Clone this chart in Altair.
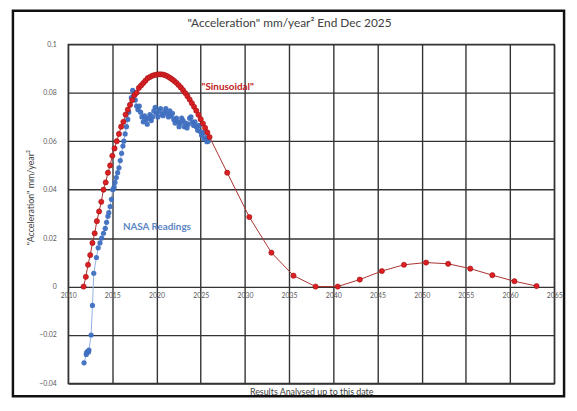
import altair as alt
import pandas as pd

# "Sinusoidal" series (red)
red_years = [2011.75, 2012.0, 2012.25, 2012.5, 2012.75, 2013.0, 2013.25, 2013.5, 2013.75, 2014.0,
             2014.25, 2014.5, 2014.75, 2015.0, 2015.25, 2015.5, 2015.75, 2016.0, 2016.25, 2016.5,
             2016.75, 2017.0, 2017.25, 2017.5, 2017.75, 2018.0, 2018.25, 2018.5, 2018.75, 2019.0,
             2019.25, 2019.5, 2019.75, 2020.0, 2020.25, 2020.5, 2020.75, 2021.0, 2021.25, 2021.5,
             2021.75, 2022.0, 2022.25, 2022.5, 2022.75, 2023.0, 2023.25, 2023.5, 2023.75, 2024.0,
             2024.25, 2024.5, 2024.75, 2025.0, 2025.25, 2025.5, 2025.75, 2026.0,
             2028.0, 2030.5, 2033.0, 2035.5, 2038.0, 2040.5, 2043.0, 2045.5, 2048.0, 2050.5,
             2053.0, 2055.5, 2058.0, 2060.5, 2063.0]
red_values = [0.000, 0.004, 0.009, 0.013, 0.018, 0.022, 0.027, 0.031, 0.035, 0.040,
              0.043, 0.047, 0.050, 0.054, 0.057, 0.060, 0.063, 0.066, 0.068, 0.071,
              0.073, 0.075, 0.077, 0.079, 0.080, 0.082, 0.083, 0.084, 0.085, 0.086,
              0.0865, 0.087, 0.0873, 0.0875, 0.0876, 0.0876, 0.0875, 0.0872, 0.0868, 0.0862,
              0.0856, 0.0849, 0.0841, 0.0832, 0.0822, 0.0811, 0.0799, 0.0786, 0.0772, 0.0757,
              0.0742, 0.0726, 0.0709, 0.0691, 0.0673, 0.0655, 0.0636, 0.0617,
              0.047, 0.0287, 0.014, 0.0045, 0.0, 0.0, 0.0029, 0.0064, 0.009, 0.0099,
              0.0094, 0.0074, 0.0047, 0.0022, 0.0002]

# NASA readings (blue)
blue_years = [2011.8, 2012.05, 2012.1, 2012.2, 2012.3, 2012.35, 2012.6, 2012.75, 2012.9, 2013.2,
              2013.4, 2013.6, 2013.8, 2014.0, 2014.2, 2014.35, 2014.5, 2014.6, 2014.75, 2014.9,
              2015.05, 2015.2, 2015.3, 2015.45, 2015.6, 2015.75, 2015.9, 2016.05, 2016.2, 2016.3,
              2016.45, 2016.6, 2016.75, 2016.85, 2017.0, 2017.15, 2017.3, 2017.45, 2017.6, 2017.75,
              2017.9, 2018.05, 2018.2, 2018.35, 2018.5, 2018.65, 2018.8, 2018.95, 2019.1, 2019.25,
              2019.4, 2019.55, 2019.7, 2019.85, 2020.0, 2020.15, 2020.3, 2020.45, 2020.6, 2020.75,
              2020.9, 2021.05, 2021.2, 2021.35, 2021.5, 2021.65, 2021.8, 2021.95, 2022.1, 2022.25,
              2022.4, 2022.55, 2022.7, 2022.85, 2023.0, 2023.15, 2023.3, 2023.45, 2023.6, 2023.75,
              2023.9, 2024.05, 2024.2, 2024.35, 2024.5, 2024.65, 2024.8, 2024.95, 2025.1, 2025.25,
              2025.4, 2025.55, 2025.7, 2025.85]
blue_values = [-0.0315, -0.028, -0.0272, -0.0268, -0.027, -0.0262, -0.020, -0.0078, 0.0055, 0.012,
               0.016, 0.018, 0.020, 0.022, 0.024, 0.0265, 0.029, 0.0305, 0.033, 0.036,
               0.040, 0.041, 0.043, 0.045, 0.047, 0.049, 0.052, 0.055, 0.058, 0.060,
               0.063, 0.066, 0.069, 0.072, 0.075, 0.078, 0.081, 0.079, 0.077, 0.0745,
               0.073, 0.0745, 0.072, 0.070, 0.068, 0.0705, 0.069, 0.067, 0.0695, 0.071,
               0.0685, 0.070, 0.0725, 0.074, 0.0715, 0.070, 0.0725, 0.0735, 0.071, 0.0705,
               0.072, 0.0735, 0.0715, 0.070, 0.0725, 0.0705, 0.0715, 0.069, 0.0675, 0.0695,
               0.068, 0.066, 0.0675, 0.0695, 0.0685, 0.066, 0.0675, 0.0655, 0.067, 0.0695,
               0.070, 0.068, 0.0665, 0.068, 0.066, 0.0645, 0.0665, 0.064, 0.0625, 0.0635,
               0.061, 0.0615, 0.0598, 0.060]

x_ticks = list(range(2010, 2066, 5))
y_ticks = [-0.04, -0.02, 0.0, 0.02, 0.04, 0.06, 0.08, 0.1]

labels = ['"Sinusoidal"', "NASA Readings"]
label_years = [2025.1, 2016.2]
label_values = [0.0823, 0.0245]
label_colors = ["#c0191b", "#5b86c4"]

red = pd.DataFrame({"year": red_years, "value": red_values})
blue = pd.DataFrame({"year": blue_years, "value": blue_values})
ann = pd.DataFrame({"label": labels, "year": label_years, "value": label_values, "color": label_colors})

FONT = "Lato"
GRID = "#333333"

x_scale = alt.Scale(domain=[2010, 2065], nice=False, zero=False)
y_scale = alt.Scale(domain=[-0.04, 0.1], nice=False, zero=False)

x_enc = alt.X("year:Q", scale=x_scale, axis=alt.Axis(
    values=x_ticks, format="d", grid=True, gridColor=GRID, gridWidth=1.4,
    domain=False, ticks=False, labelPadding=-93, labelBaseline="top", labelFlush=False,
    labelFontSize=7, labelColor="#5a5a5a", labelFont=FONT,
    title="Results Analysed up to this date", titleFont=FONT, titleFontSize=9,
    titleFontWeight="normal", titleColor="#404040", titleY=4, titleBaseline="top"))
y_enc = alt.Y("value:Q", scale=y_scale, axis=alt.Axis(
    values=y_ticks, format=".2~f", grid=True, gridColor=GRID, gridWidth=1.4,
    domain=False, ticks=False, labelPadding=12, labelFlush=False,
    labelFontSize=7, labelColor="#5a5a5a", labelFont=FONT,
    title='"Acceleration" mm/year²', titleFont=FONT, titleFontSize=9,
    titleFontWeight="normal", titleColor="#404040", titleX=-33, titleY=155,
    titleAngle=-90, titleBaseline="bottom"))

blue_line = alt.Chart(blue).mark_line(color="#8fb0e3", strokeWidth=1).encode(x=x_enc, y=y_enc)
blue_pts = alt.Chart(blue).mark_circle(color="#3f6fc0", size=28, opacity=0.95).encode(x="year:Q", y="value:Q")
red_line = alt.Chart(red).mark_line(color="#a8322e", strokeWidth=1).encode(x="year:Q", y="value:Q")
red_pts = alt.Chart(red).mark_point(filled=True, fill="#dc1f22", stroke="#9a1518", strokeWidth=0.6,
                                    size=28, opacity=1).encode(x="year:Q", y="value:Q")
ann_text = alt.Chart(ann).mark_text(align="left", baseline="middle", font=FONT, fontSize=10,
                                    fontWeight="bold").encode(
    x="year:Q", y="value:Q", text="label:N", color=alt.Color("color:N", scale=None))

frame = alt.Chart(pd.DataFrame({"k": [0]})).mark_rect(
    fill=None, stroke="#111111", strokeWidth=2.5, clip=False).encode(
    x=alt.value(-56), x2=alt.value(503), y=alt.value(-34), y2=alt.value(357))

chart = alt.layer(blue_line, blue_pts, red_line, red_pts, ann_text, frame).properties(
    width=493, height=344,
    autosize=alt.AutoSizeParams(type="none"),
    padding={"left": 61, "top": 34, "right": 15, "bottom": 17},
    title=alt.TitleParams('"Acceleration" mm/year² End Dec 2025', anchor="middle", frame="group",
                          dx=-22, dy=33, offset=12, font=FONT, fontSize=12, fontWeight="normal",
                          color="#404040"),
    background="white",
).configure_view(stroke=GRID, strokeWidth=1.4)

chart.save("out.html", embed_options={"renderer": "svg", "actions": False})
